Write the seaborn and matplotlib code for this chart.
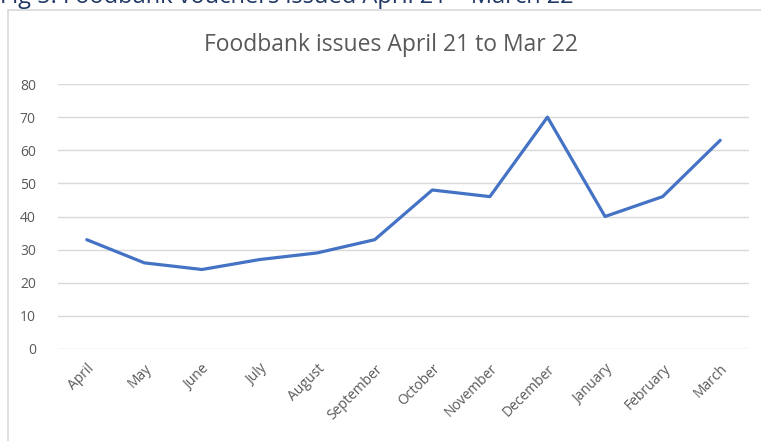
import matplotlib
matplotlib.use("Agg")
import matplotlib.pyplot as plt
import seaborn as sns
import pandas as pd
from matplotlib.patches import Rectangle

months = ["April", "May", "June", "July", "August", "September",
          "October", "November", "December", "January", "February", "March"]
issues = [33, 26, 24, 27, 29, 33, 48, 46, 70, 40, 46, 63]
yticks = [0, 10, 20, 30, 40, 50, 60, 70, 80]

sns.set_theme(style="white")
plt.rcParams['font.family'] = ['Open Sans', 'DejaVu Sans']

W, H = 761, 441
fig = plt.figure(figsize=(W / 100, H / 100), dpi=100)

# chart frame
fig.patches.append(Rectangle((8 / W, -0.05), 1.1, 1 - 10 / H + 0.05,
                             transform=fig.transFigure, fill=False,
                             edgecolor="#D9D9D9", linewidth=1.2))

ax = fig.add_axes([58 / W, 1 - 349 / H, 691 / W, 265 / H])
df = pd.DataFrame({"month": months, "issues": issues})
sns.lineplot(data=df, x="month", y="issues", ax=ax, color="#4472C4",
             linewidth=2.3, sort=False)

ax.set_xlim(-0.5, len(months) - 0.5)
ax.set_ylim(0, 80)
ax.set_yticks(yticks)
ax.set_yticklabels([str(v) for v in yticks], color="#595959", fontsize=10)
ax.yaxis.grid(True, color="#D9D9D9", linewidth=1)
ax.set_axisbelow(True)
for s in ax.spines.values():
    s.set_visible(False)
ax.tick_params(axis="both", length=0)
ax.tick_params(axis="y", pad=16)
ax.set_xticks(range(len(months)))
ax.set_xticklabels(months, rotation=45, ha="right", rotation_mode="anchor",
                   color="#595959", fontsize=10)
ax.tick_params(axis="x", pad=9)
ax.set_xlabel("")
ax.set_ylabel("")

fig.text(391 / W, 1 - 51 / H, "Foodbank issues April 21 to Mar 22",
         ha="center", va="baseline", fontsize=16.5, color="#595959")
fig.text(0, 1 - 3 / H, "Fig 5: Foodbank vouchers issued April 21 \u2013 March 22",
         ha="left", va="baseline", fontsize=17, color="#1F3864")

fig.savefig("out.png", dpi=100)
